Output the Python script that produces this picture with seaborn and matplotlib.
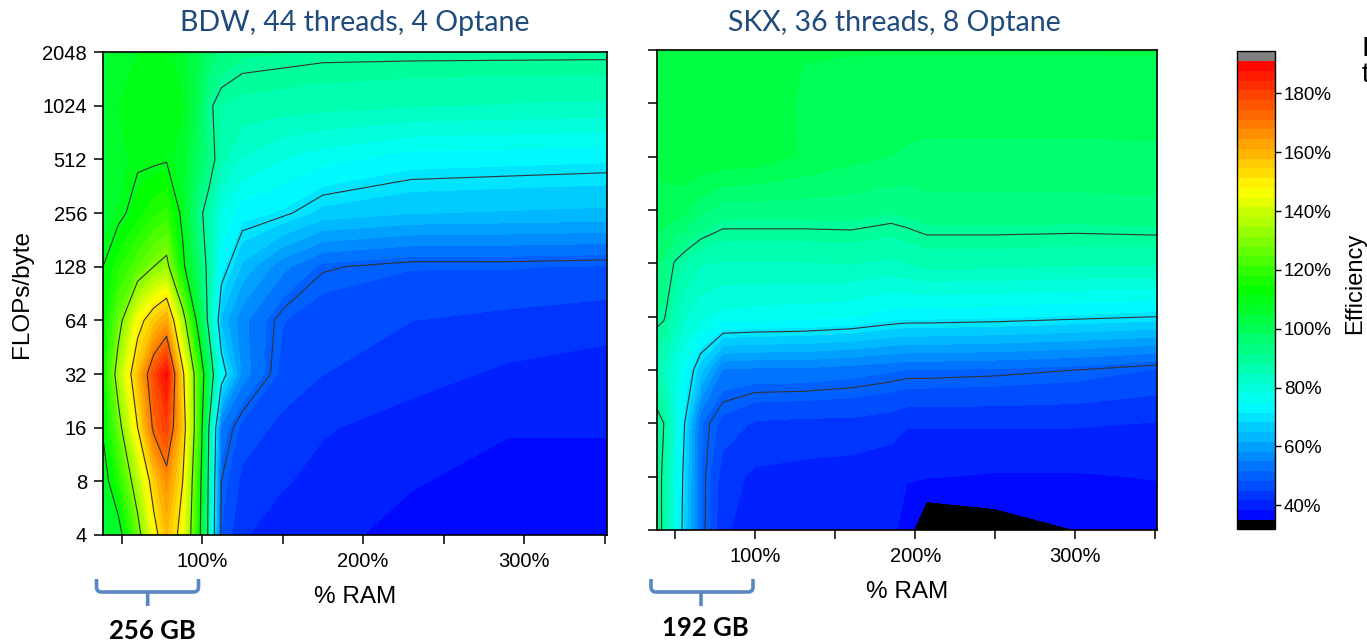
import numpy as np
import matplotlib
matplotlib.use("Agg")
import matplotlib.pyplot as plt
from matplotlib.colors import LinearSegmentedColormap, Normalize
from matplotlib.path import Path
from matplotlib.patches import PathPatch
import seaborn as sns

# ---------------- data ----------------
flops = [4, 8, 16, 32, 64, 128, 256, 512, 1024, 2048]

ram_bdw = [38.5, 48, 60, 70, 78, 88, 98, 104, 112, 125, 150, 175, 230, 290, 351.5]
eff_bdw = [
    [104, 106, 126, 146, 158, 146, 114, 88, 48, 42, 40, 39, 37.5, 37, 37],          # 4
    [106, 117, 136, 155, 166, 150, 116, 89, 50, 44, 42, 40.5, 38.5, 37.5, 37.5],    # 8
    [111, 126, 150, 172, 180, 156, 120, 91, 54, 47, 44, 42, 40, 38.5, 38.5],        # 16
    [113, 135, 158, 178, 189, 152, 121, 100, 74, 57, 47, 45, 43, 41, 40],           # 32
    [112, 126, 146, 156, 162, 135, 105, 88, 64, 56, 48.5, 46, 45, 44, 43],          # 64
    [110, 117, 124, 130, 133, 112, 96, 88, 73, 64, 56, 50.5, 48.5, 48.5, 48],       # 128
    [106, 108, 113, 117, 119, 108, 92, 87, 78, 73, 71, 67, 65, 64.5, 64],           # 256
    [105, 107, 109, 109, 109.5, 106, 98, 94, 86, 81, 78, 76, 73, 72.5, 72],         # 512
    [106, 108, 109, 109.5, 109.5, 108, 100, 91, 88, 87, 86.5, 86, 85, 84.5, 84],    # 1024
    [104, 106, 108, 109, 109, 106, 101, 97, 94, 92, 91.5, 91, 91, 91, 91],          # 2048
]

ram_skx = [38.75, 43, 50, 56, 66, 80, 100, 130, 160, 185, 195, 207, 250, 300, 351]
eff_skx = [
    [93, 88.5, 78, 67, 52, 42, 40.5, 40, 39.5, 39, 37, 31, 33, 35, 36],             # 4
    [92, 89, 78, 68, 52, 43, 41, 40.5, 40, 39.5, 38.5, 38.5, 38, 38, 38.5],         # 8
    [91.5, 90, 79, 70, 52, 47, 44.5, 44, 44, 43, 42, 42, 42, 42, 41.5],             # 16
    [86, 84, 79, 75, 66, 54.5, 54, 54, 53, 52, 51.5, 51.5, 51, 50, 48],             # 32
    [91, 90.5, 86, 82, 79, 77, 76.5, 76, 75, 73, 72.5, 72.5, 72, 71, 70],           # 64
    [95, 94, 89.5, 87.5, 85, 84.5, 84.5, 84.5, 85, 84, 85, 86, 86, 85.5, 85.5],     # 128
    [100, 100, 100, 99, 96, 93, 93, 93, 93, 92, 92.5, 93.5, 93.5, 93.5, 94],        # 256
    [102, 102.5, 103, 104, 104, 104, 103.5, 101, 99, 98, 97.5, 97, 97, 97, 97],     # 512
    [103, 103, 103, 103.5, 104, 104, 103, 101, 100.5, 100, 100, 100, 100, 100, 100.5],  # 1024
    [102, 102, 102, 102, 102, 102, 102, 101.5, 101.5, 101.5, 101.5, 101.5, 101.5, 101.5, 101.5],  # 2048
]

titles = ["BDW, 44 threads, 4 Optane", "SKX, 36 threads, 8 Optane"]
x_ticks = [100, 200, 300]
x_minor = [50, 150, 250, 350]
cbar_ticks = [40, 60, 80, 100, 120, 140, 160, 180]
line_levels = [50, 70, 90, 110, 130, 150, 170]
mem_labels = ["256 GB", "192 GB"]

# ---------------- style ----------------
sns.set_theme(style="ticks", rc={
    "axes.edgecolor": "black", "axes.linewidth": 1.2,
    "xtick.color": "black", "ytick.color": "black",
    "text.color": "black", "axes.labelcolor": "black",
})
plt.rcParams["font.family"] = ["Liberation Sans", "DejaVu Sans"]

W, H = 1367, 643
fig = plt.figure(figsize=(W / 100, H / 100), dpi=100)


def px_rect(x0, y0, x1, y1):
    return [x0 / W, 1 - y1 / H, (x1 - x0) / W, (y1 - y0) / H]


cmap = LinearSegmentedColormap.from_list(
    "origin_rainbow",
    [(0.0, "#0000FF"), (0.25, "#00FFFF"), (0.5, "#00FF00"), (0.718, "#FFFF00"), (1.0, "#FF0000")],
)
cmap.set_over("#808080")
cmap.set_under("#000000")
vmin, vmax = 35, 191
norm = Normalize(vmin=vmin, vmax=vmax)
levels = np.linspace(vmin, vmax, 48)

ax1 = fig.add_axes(px_rect(103, 52, 607, 535))
ax2 = fig.add_axes(px_rect(657, 50, 1157, 530))
cax = fig.add_axes(px_rect(1237, 51, 1275, 529))

logy = np.log2(flops)
panels = [(ax1, ram_bdw, eff_bdw, (38.5, 351.5)), (ax2, ram_skx, eff_skx, (38.75, 351))]
cf = None
for i, (ax, ram, eff, xl) in enumerate(panels):
    Xg, Yg = np.meshgrid(ram, logy)
    Z = np.array(eff, dtype=float)
    cf = ax.contourf(Xg, Yg, Z, levels=levels, cmap=cmap, norm=norm, extend="both")
    ax.contour(Xg, Yg, Z, levels=line_levels, colors="#333333", linewidths=0.8)
    ax.set_xlim(*xl)
    ax.set_ylim(logy[0], logy[-1])
    ax.set_xticks(x_ticks)
    ax.set_xticklabels([f"{v}%" for v in x_ticks])
    ax.set_xticks(x_minor, minor=True)
    ax.set_yticks(logy)
    if i == 0:
        ax.set_yticklabels([str(f) for f in flops])
        ax.set_ylabel("FLOPs/byte", fontsize=17.5)
        ax.yaxis.set_label_coords(-0.1607, 0.5)
        ax.yaxis.label.set_va("center")
    else:
        ax.set_yticklabels([])
    ax.set_xlabel("% RAM", fontsize=17.5)
    ax.xaxis.label.set_va("center")
    ax.tick_params(axis="both", which="both", direction="out", length=6.5, width=1.1,
                   labelsize=14.5, pad=5)
    ax.tick_params(axis="x", which="both", pad=6)
    for s in ax.spines.values():
        s.set_visible(True)
        s.set_linewidth(1.2)

ax1.xaxis.set_label_coords(0.5, (535 - 597) / 483)
ax2.xaxis.set_label_coords(0.5, (530 - 592) / 480)

# titles
title_color = "#1F4A7C"
fig.text(355 / W, 1 - 23 / H, titles[0], ha="center", va="center", fontsize=20.5,
         family=["Lato", "DejaVu Sans"], color=title_color)
fig.text(894 / W, 1 - 23 / H, titles[1], ha="center", va="center", fontsize=20.5,
         family=["Lato", "DejaVu Sans"], color=title_color)

# colorbar
cb = fig.colorbar(cf, cax=cax, extend="both", extendrect=True, extendfrac=(0.0196, 0.0218))
cb.set_ticks(cbar_ticks)
cb.set_ticklabels([f"{v}%" for v in cbar_ticks])
cb.ax.tick_params(direction="out", length=4.5, width=1, labelsize=13.5, pad=2)
cb.outline.set_linewidth(1.0)
cb.outline.set_edgecolor("black")
cb.set_label("Efficiency", fontsize=17)
cb.ax.yaxis.set_label_coords((1355 - 1237) / 38, (529 - 283) / 478)
cb.ax.yaxis.label.set_va("center")

# cut-off annotation at the right edge
fig.text(1362 / W, 1 - 36 / H, "I\nt", ha="left", va="top", fontsize=20, linespacing=1.0)


# memory brackets
def brace(x0, x1, xm, ytop, yh, ybot, r=5):
    P = lambda x, y: (x / W, 1 - y / H)
    verts = [P(x0, ytop), P(x0, yh - r), P(x0, yh), P(x0 + r, yh),
             P(x1 - r, yh), P(x1, yh), P(x1, yh - r), P(x1, ytop),
             P(xm, yh), P(xm, ybot)]
    codes = [Path.MOVETO, Path.LINETO, Path.CURVE3, Path.CURVE3,
             Path.LINETO, Path.CURVE3, Path.CURVE3, Path.LINETO,
             Path.MOVETO, Path.LINETO]
    patch = PathPatch(Path(verts, codes), transform=fig.transFigure, fill=False,
                      edgecolor="#5A87C3", linewidth=2.6, capstyle="butt", joinstyle="round")
    fig.add_artist(patch)


brace(96.5, 198.5, 147.7, 579, 592, 606)
brace(651, 753, 701, 579, 592, 606)
fig.text(152 / W, 1 - 631 / H, mem_labels[0], ha="center", va="center", fontsize=18.5,
         fontweight="bold", family=["Lato", "DejaVu Sans"])
fig.text(705 / W, 1 - 628 / H, mem_labels[1], ha="center", va="center", fontsize=18.5,
         fontweight="bold", family=["Lato", "DejaVu Sans"])

fig.savefig("out.png", dpi=100)
